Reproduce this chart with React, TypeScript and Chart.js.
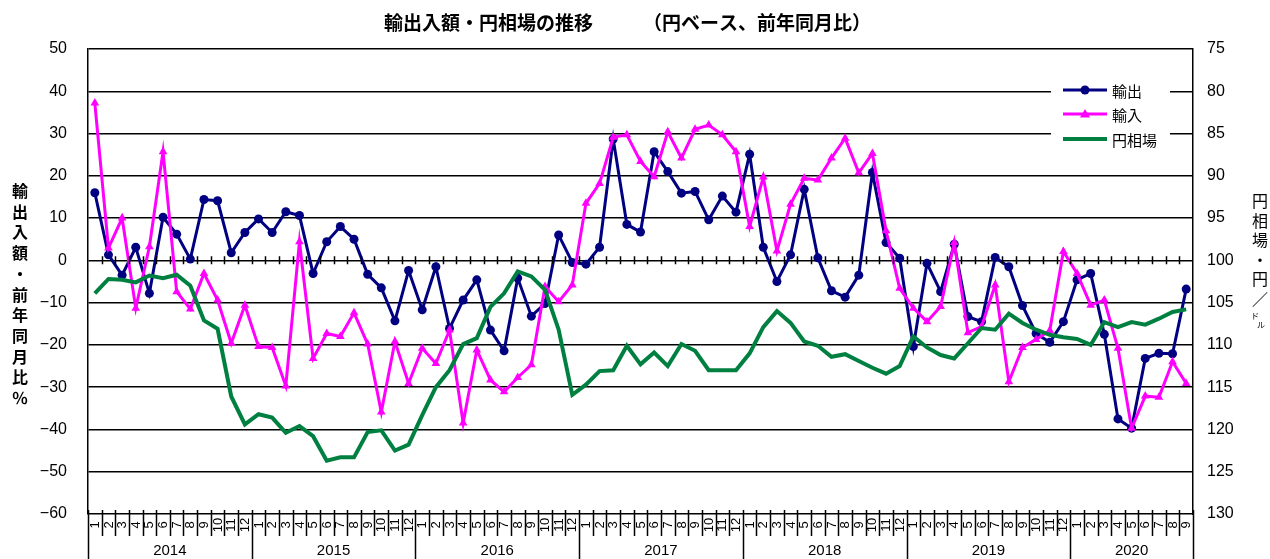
import React, { useEffect, useRef } from 'react';
import { Chart, registerables } from 'chart.js';

Chart.register(...registerables);

const years = ['2014', '2015', '2016', '2017', '2018', '2019', '2020'];
const monthNames = ['1', '2', '3', '4', '5', '6', '7', '8', '9', '10', '11', '12'];
const monthsInLastYear = 9;

const categories: string[] = [];
const categoryMonths: string[] = [];
years.forEach((y, yi) => {
  const count = yi === years.length - 1 ? monthsInLastYear : 12;
  for (let m = 0; m < count; m++) {
    categories.push(`${y}/${monthNames[m]}`);
    categoryMonths.push(monthNames[m]);
  }
});

const exportsYoY = [
  16.0, 1.3, -3.5, 3.1, -7.8, 10.2, 6.2, 0.3, 14.4, 14.1, 1.8, 6.6,
  9.8, 6.6, 11.5, 10.6, -3.1, 4.4, 8.0, 5.0, -3.3, -6.5, -14.3, -2.4,
  -11.7, -1.5, -16.1, -9.4, -4.6, -16.5, -21.4, -4.2, -13.2, -10.2, 6.0, -0.5,
  -0.9, 3.1, 28.7, 8.5, 6.7, 25.7, 21.0, 15.9, 16.3, 9.6, 15.2, 11.4,
  25.1, 3.1, -5.0, 1.3, 16.8, 0.6, -7.2, -8.7, -3.5, 20.8, 4.2, 0.5,
  -20.4, -0.7, -7.4, 3.8, -13.3, -14.5, 0.7, -1.5, -10.7, -17.3, -19.4, -14.5,
  -4.6, -3.1, -17.5, -37.5, -39.7, -23.2, -22.0, -22.1, -6.8,
];

const importsYoY = [
  37.2, 2.9, 10.0, -11.3, 3.2, 25.7, -7.4, -11.5, -3.1, -9.4, -19.6, -10.6,
  -20.4, -20.6, -29.7, 4.4, -23.2, -17.3, -18.0, -12.4, -19.8, -35.9, -19.2, -29.1,
  -20.8, -24.4, -16.5, -38.5, -21.2, -28.3, -31.1, -27.7, -24.7, -6.2, -9.8, -5.8,
  13.5, 18.2, 29.1, 29.7, 23.4, 19.8, 30.4, 24.2, 31.0, 32.0, 29.7, 25.7,
  8.0, 19.7, 2.2, 13.3, 19.4, 19.0, 24.2, 28.9, 20.7, 25.3, 7.0, -6.6,
  -11.3, -14.5, -10.9, 4.2, -17.1, -15.7, -5.8, -28.7, -20.6, -18.7, -16.6, 2.1,
  -3.1, -10.6, -9.4, -20.8, -39.7, -32.1, -32.4, -24.0, -29.1,
];

const yenRate = [
  103.9, 102.2, 102.3, 102.6, 101.8, 102.1, 101.7, 103.0, 107.1, 108.1, 116.1, 119.4,
  118.2, 118.6, 120.4, 119.6, 120.8, 123.7, 123.3, 123.3, 120.3, 120.1, 122.5, 121.8,
  118.3, 115.0, 113.0, 109.9, 109.2, 105.5, 103.9, 101.3, 101.9, 103.5, 108.2, 115.9,
  114.7, 113.1, 113.0, 110.1, 112.3, 110.9, 112.5, 109.9, 110.7, 113.0, 113.0, 113.0,
  111.0, 107.9, 106.0, 107.4, 109.6, 110.1, 111.4, 111.1, 111.9, 112.7, 113.4, 112.5,
  109.0, 110.3, 111.2, 111.6, 109.8, 108.0, 108.2, 106.3, 107.4, 108.2, 108.8, 109.1,
  109.3, 110.0, 107.3, 107.9, 107.3, 107.6, 106.9, 106.1, 105.8,
];

const seriesNames = ['輸出', '輸入', '円相場'];
const titleParts = ['輸出入額・円相場の推移', '（円ベース、前年同月比）'];
const leftTitle = ['輸', '出', '入', '額', '・', '前', '年', '同', '月', '比', '％'];
const rightTitle = ['円', '相', '場', '・', '円', '／'];
const rightTitleSmall = ['ド', 'ル'];

const NAVY = '#000080';
const MAGENTA = '#FF00FF';
const GREEN = '#008040';
const JP = '"Noto Sans CJK JP", sans-serif';
const NUM = '"Liberation Sans", Arial, sans-serif';

const decorPlugin = {
  id: 'decor',
  beforeDraw(chart: any) {
    const ctx = chart.ctx;
    ctx.save();
    ctx.fillStyle = '#fff';
    ctx.fillRect(0, 0, chart.width, chart.height);
    ctx.restore();
  },
  afterDraw(chart: any) {
    const ctx = chart.ctx;
    const { left, right, bottom } = chart.chartArea;
    const n = categories.length;
    const w = (right - left) / n;
    const y0 = chart.scales.y.getPixelForValue(0);
    ctx.save();
    ctx.strokeStyle = '#000';
    ctx.lineWidth = 1.5;
    ctx.beginPath();
    for (let i = 1; i < n; i++) {
      const x = Math.round(left + i * w) + 0.5;
      ctx.moveTo(x, y0 - 4);
      ctx.lineTo(x, y0 + 4);
    }
    for (let i = 0; i <= n; i++) {
      const x = Math.round(left + i * w) + 0.5;
      if (i % 12 === 0 || i === n) {
        ctx.moveTo(x, bottom - 4);
        ctx.lineTo(x, chart.height);
      } else {
        ctx.moveTo(x, bottom - 4);
        ctx.lineTo(x, bottom + 22);
      }
    }
    ctx.stroke();

    // month labels
    ctx.fillStyle = '#000';
    ctx.font = `13px ${NUM}`;
    ctx.textAlign = 'center';
    ctx.textBaseline = 'middle';
    for (let i = 0; i < n; i++) {
      const cx = left + (i + 0.5) * w;
      ctx.save();
      ctx.translate(cx + 0.5, bottom + 11);
      ctx.rotate(-Math.PI / 2);
      ctx.fillText(categoryMonths[i], 0, 0);
      ctx.restore();
    }
    // year labels
    ctx.font = `15px ${NUM}`;
    years.forEach((y, yi) => {
      const start = yi * 12;
      const end = Math.min(n, start + 12);
      const cx = left + ((start + end) / 2) * w;
      ctx.fillText(y, cx, bottom + 37);
    });

    // title
    ctx.font = `bold 19px ${JP}`;
    ctx.textAlign = 'left';
    ctx.fillText(titleParts[0], 384, 23);
    ctx.fillText(titleParts[1], 643, 23);

    // left axis title
    ctx.textAlign = 'center';
    ctx.font = `bold 16px ${JP}`;
    leftTitle.forEach((c, k) => ctx.fillText(c, 20, 191 + k * 20.7));
    // right axis title
    ctx.font = `16px ${JP}`;
    rightTitle.forEach((c, k) => ctx.fillText(c, 1260, 201 + k * 19.5));
    ctx.font = `8px ${JP}`;
    ctx.fillText(rightTitleSmall[0], 1255, 316);
    ctx.fillText(rightTitleSmall[1], 1261, 325);

    // legend
    ctx.fillStyle = '#fff';
    ctx.fillRect(1051, 79, 119, 72);
    const ly = [90, 114, 139];
    const colors = [NAVY, MAGENTA, GREEN];
    ctx.font = `15px ${JP}`;
    ctx.textAlign = 'left';
    ly.forEach((yy, k) => {
      ctx.strokeStyle = colors[k];
      ctx.lineWidth = k === 2 ? 4 : 3;
      ctx.beginPath();
      ctx.moveTo(1063, yy);
      ctx.lineTo(1107, yy);
      ctx.stroke();
      ctx.fillStyle = colors[k];
      if (k === 0) {
        ctx.beginPath();
        ctx.arc(1085, yy, 4.5, 0, Math.PI * 2);
        ctx.fill();
      } else if (k === 1) {
        ctx.beginPath();
        ctx.moveTo(1085, yy - 5);
        ctx.lineTo(1090, yy + 3.5);
        ctx.lineTo(1080, yy + 3.5);
        ctx.closePath();
        ctx.fill();
      }
      ctx.fillStyle = '#000';
      ctx.fillText(seriesNames[k], 1112, yy + 1);
    });
    ctx.restore();
  },
};

export default function App() {
  const ref = useRef<HTMLCanvasElement | null>(null);
  useEffect(() => {
    document.body.style.margin = '0';
    if (!ref.current) return;
    const chart = new Chart(ref.current, {
      type: 'line',
      data: {
        labels: categories,
        datasets: [
          {
            label: seriesNames[0],
            data: exportsYoY,
            yAxisID: 'y',
            borderColor: NAVY,
            backgroundColor: NAVY,
            borderWidth: 3,
            pointRadius: 4.5,
            pointStyle: 'circle',
            pointBorderWidth: 0,
            tension: 0,
            order: 2,
          },
          {
            label: seriesNames[1],
            data: importsYoY,
            yAxisID: 'y',
            borderColor: MAGENTA,
            backgroundColor: MAGENTA,
            borderWidth: 3,
            pointRadius: 5,
            pointStyle: 'triangle',
            pointBorderWidth: 0,
            tension: 0,
            order: 1,
          },
          {
            label: seriesNames[2],
            data: yenRate,
            yAxisID: 'y1',
            borderColor: GREEN,
            backgroundColor: GREEN,
            borderWidth: 4,
            pointRadius: 0,
            tension: 0,
            order: 0,
          },
        ],
      },
      options: {
        responsive: false,
        devicePixelRatio: 1,
        animation: false,
        layout: { padding: { top: 49, left: 0, right: 0, bottom: 0 } },
        plugins: {
          legend: { display: false },
          title: { display: false },
          tooltip: { enabled: false },
        },
        scales: {
          x: {
            type: 'category',
            offset: true,
            grid: { display: false },
            border: { display: false },
            ticks: { display: false },
            afterFit: (s: any) => { s.height = 45; },
          },
          y: {
            position: 'left',
            min: -60,
            max: 50,
            grid: { color: '#000', lineWidth: 1.5, drawTicks: false },
            border: { display: true, color: '#000', width: 1.5 },
            ticks: {
              stepSize: 10,
              padding: 21,
              color: '#000',
              font: { family: NUM, size: 16 },
              callback: (v: any) => (v < 0 ? '\u2212' + Math.abs(v) : String(v)),
            },
            afterFit: (s: any) => { s.width = 88; },
          },
          y1: {
            position: 'right',
            reverse: true,
            min: 75,
            max: 130,
            grid: { display: false, drawTicks: false },
            border: { display: true, color: '#000', width: 1.5 },
            ticks: {
              stepSize: 5,
              padding: 14,
              color: '#000',
              font: { family: NUM, size: 16 },
            },
            afterFit: (s: any) => { s.width = 77; },
          },
        },
      },
      plugins: [decorPlugin],
    });
    return () => chart.destroy();
  }, []);
  return (
    <div style={{ width: 1270, height: 559 }}>
      <canvas ref={ref} width={1270} height={559} style={{ display: 'block' }} />
    </div>
  );
}
